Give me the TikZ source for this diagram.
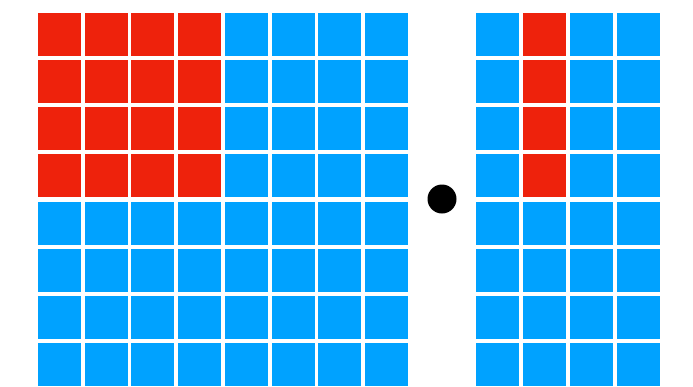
\documentclass[tikz,border=0pt]{standalone}
\usepackage{tikz}
\definecolor{hotred}{HTML}{EE220C}
\definecolor{coolblue}{HTML}{00A2FF}

\begin{document}
\begin{tikzpicture}[x=1pt,y=-1pt,
cell/.style={minimum size=43pt,inner sep=0pt,outer sep=0pt},
hot/.style={cell,fill=hotred}, cold/.style={cell,fill=coolblue}]
\useasboundingbox (0,0) rectangle (693,386);
% left block: 8x8, top-left 4x4 red
\foreach \r in {0,...,7}{
 \foreach \c in {0,...,7}{
  \pgfmathparse{(\r<4 && \c<4) ? "hot" : "cold"}\let\kind\pgfmathresult
  \node[\kind] (a-\r-\c) at ({59.5+\c*46.71},{34.5+\r*47.14}) {};
 }
}
% product sign
\node[circle,fill=black,minimum size=29pt,inner sep=0pt] (dot) at (442,199) {};
% right block: 8x4, second column top half red
\foreach \r in {0,...,7}{
 \foreach \c in {0,...,3}{
  \pgfmathparse{(\r<4 && \c==1) ? "hot" : "cold"}\let\kind\pgfmathresult
  \node[\kind] (b-\r-\c) at ({497.5+\c*47},{34.5+\r*47.14}) {};
 }
}
\end{tikzpicture}
\end{document}
